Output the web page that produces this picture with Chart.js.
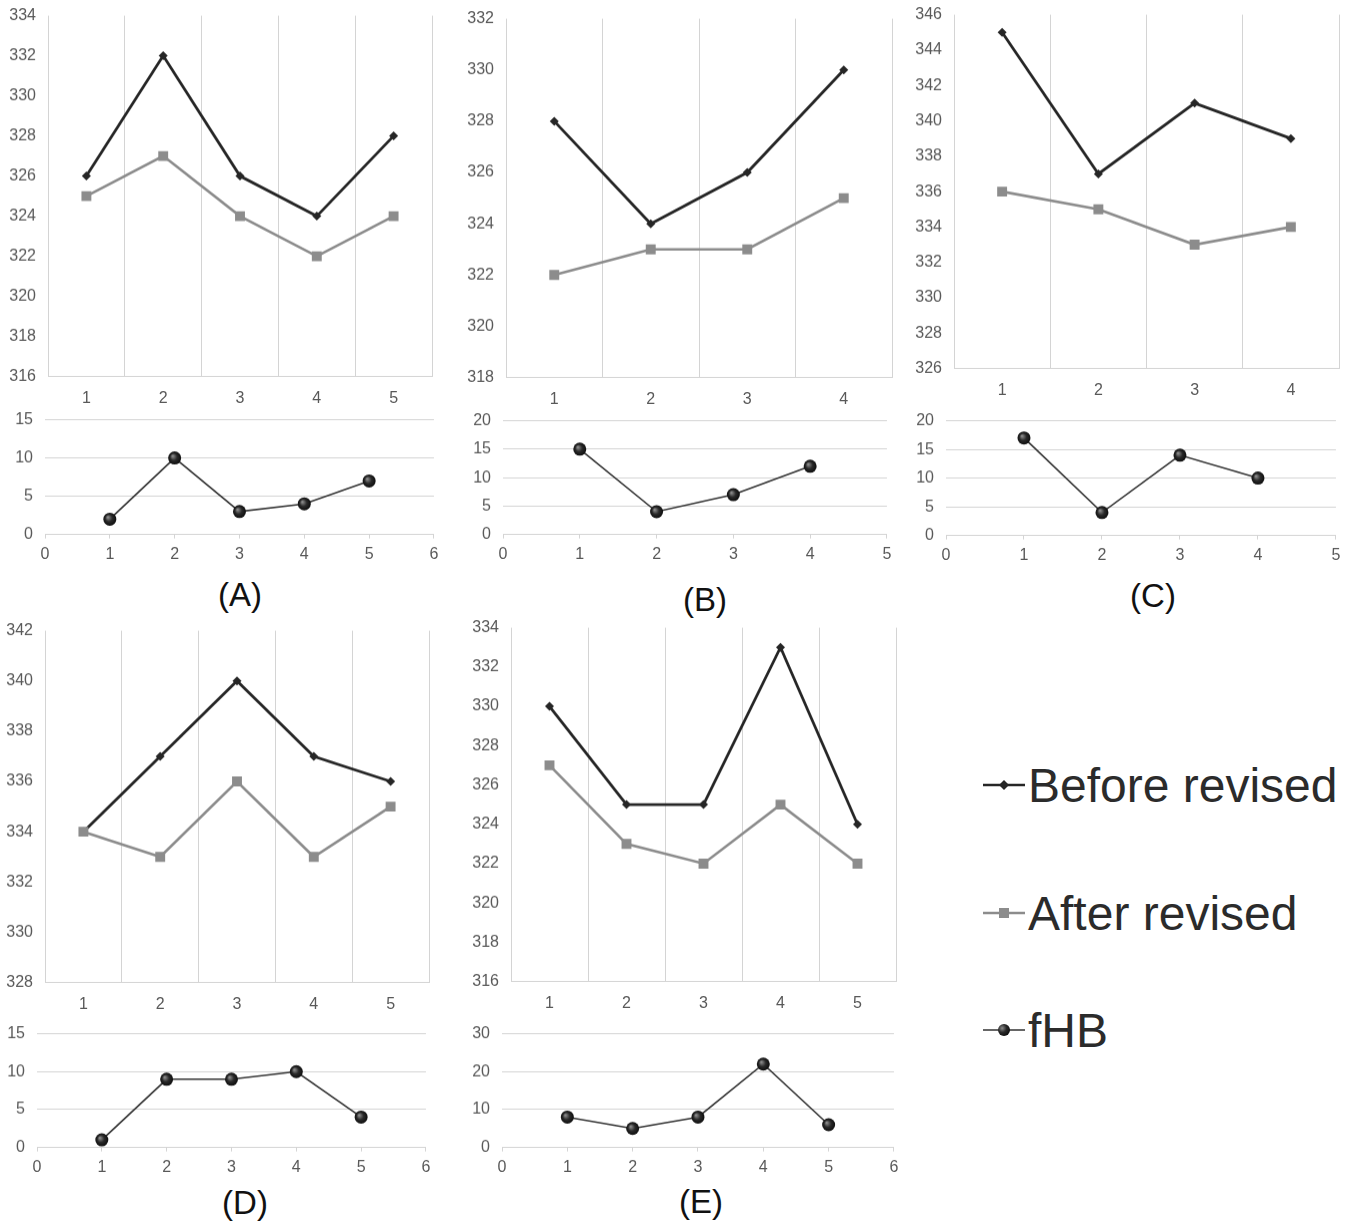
<!DOCTYPE html>
<html>
<head>
<meta charset="utf-8">
<script src="https://cdn.jsdelivr.net/npm/chart.js@4.4.1/dist/chart.umd.min.js"></script>
<style>
  body { margin: 0; background: #fff; width: 1354px; height: 1222px; overflow: hidden; position: relative;
         font-family: "Liberation Sans", Arial, sans-serif; }
  .box { position: absolute; }
  .tag { position: absolute; font-size: 33px; color: #111; transform: translate(-50%, -50%); white-space: nowrap; }
  .leg { position: absolute; left: 983px; height: 60px; display: flex; align-items: center;
         font-size: 48px; color: #2b2b2b; white-space: nowrap; }
  .leg svg { margin-right: 3px; }
</style>
</head>
<body>
<script>
// sessions (x categories) per panel
const sessionsA = [1, 2, 3, 4, 5];
const sessionsB = [1, 2, 3, 4];
const sessionsC = [1, 2, 3, 4];
const sessionsD = [1, 2, 3, 4, 5];
const sessionsE = [1, 2, 3, 4, 5];

const beforeA = [326, 332, 326, 324, 328];
const afterA  = [325, 327, 324, 322, 324];
const fhbA    = [2, 10, 3, 4, 7];

const beforeB = [328, 324, 326, 330];
const afterB  = [322, 323, 323, 325];
const fhbB    = [15, 4, 7, 12];

const beforeC = [345, 337, 341, 339];
const afterC  = [336, 335, 333, 334];
const fhbC    = [17, 4, 14, 10];

const beforeD = [334, 337, 340, 337, 336];
const afterD  = [334, 333, 336, 333, 335];
const fhbD    = [1, 9, 9, 10, 4];

const beforeE = [330, 325, 325, 333, 324];
const afterE  = [327, 323, 322, 325, 322];
const fhbE    = [8, 5, 8, 22, 6];

// tick ranges
const topMin = [316, 318, 326, 328, 316];
const topMax = [334, 332, 346, 342, 334];
const bottomMax = [15, 20, 20, 15, 30];
const bottomStep = [5, 5, 5, 5, 10];
const bottomXMax = [6, 5, 5, 6, 6];

const panelNames = ['(A)', '(B)', '(C)', '(D)', '(E)'];
const legendNames = ['Before revised', 'After revised', 'fHB'];

// plot area rectangles (pixels on the page) and label spots
const layout = [
  { top: { l: 48,  r: 432,  t: 16,  b: 376 }, bot: { l: 45,  r: 434,  t: 420,  b: 534 },  tag: [240, 595] },
  { top: { l: 506, r: 892,  t: 19,  b: 377 }, bot: { l: 503, r: 887,  t: 421,  b: 534 },  tag: [705, 600] },
  { top: { l: 954, r: 1339, t: 15,  b: 368 }, bot: { l: 946, r: 1336, t: 421,  b: 535 },  tag: [1153, 596] },
  { top: { l: 45,  r: 429,  t: 631, b: 982 }, bot: { l: 37,  r: 426,  t: 1034, b: 1147 }, tag: [245, 1203] },
  { top: { l: 511, r: 896,  t: 628, b: 981 }, bot: { l: 502, r: 894,  t: 1034, b: 1147 }, tag: [701, 1202] }
];

const panels = [
  { sessions: sessionsA, before: beforeA, after: afterA, fhb: fhbA },
  { sessions: sessionsB, before: beforeB, after: afterB, fhb: fhbB },
  { sessions: sessionsC, before: beforeC, after: afterC, fhb: fhbC },
  { sessions: sessionsD, before: beforeD, after: afterD, fhb: fhbD },
  { sessions: sessionsE, before: beforeE, after: afterE, fhb: fhbE }
];

const YW = 40, PAD_TOP = 10, PAD_RIGHT = 10, TOP_XH = 34, BOT_XH = 30;
const tickFont = { family: '"Liberation Sans", Arial, sans-serif', size: 16 };
const tickColor = '#595959';
const gridColor = '#d4d4d4';
const darkLine = '#262626';
const grayLine = '#8c8c8c';

function place(rect, xh) {
  const div = document.createElement('div');
  div.className = 'box';
  div.style.left = (rect.l - YW) + 'px';
  div.style.top = (rect.t - PAD_TOP) + 'px';
  div.style.width = (rect.r - rect.l + YW + PAD_RIGHT) + 'px';
  div.style.height = (rect.b - rect.t + PAD_TOP + xh) + 'px';
  const cv = document.createElement('canvas');
  div.appendChild(cv);
  document.body.appendChild(div);
  return cv;
}

// shift and resize the box so the plot area lands on the wanted rectangle
function fitToRect(chart, rect) {
  const div = chart.canvas.parentNode;
  const ca = chart.chartArea;
  const left = parseFloat(div.style.left), top = parseFloat(div.style.top);
  const w = parseFloat(div.style.width), h = parseFloat(div.style.height);
  div.style.left = (left + rect.l - (left + ca.left)) + 'px';
  div.style.top = (top + rect.t - (top + ca.top)) + 'px';
  div.style.width = (w + (rect.r - rect.l) - (ca.right - ca.left)) + 'px';
  div.style.height = (h + (rect.b - rect.t) - (ca.bottom - ca.top)) + 'px';
  chart.resize();
}

function ballColor(ctx) {
  const chart = ctx.chart;
  if (ctx.type !== 'data' || !ctx.parsed || !chart.scales.x || !chart.scales.y) {
    return '#1a1a1a';
  }
  const x = chart.scales.x.getPixelForValue(ctx.parsed.x);
  const y = chart.scales.y.getPixelForValue(ctx.parsed.y);
  if (!Number.isFinite(x) || !Number.isFinite(y)) {
    return '#1a1a1a';
  }
  const g = chart.ctx.createRadialGradient(x - 2, y - 2, 0.5, x, y, 6.5);
  g.addColorStop(0, '#8a8a8a');
  g.addColorStop(0.5, '#2a2a2a');
  g.addColorStop(1, '#0d0d0d');
  return g;
}

function drawTop(i) {
  const p = panels[i];
  const rect = layout[i].top;
  const chart = new Chart(place(rect, TOP_XH), {
    type: 'line',
    data: {
      labels: p.sessions.map(String),
      datasets: [{
        label: legendNames[0],
        data: p.before,
        borderColor: darkLine,
        backgroundColor: darkLine,
        borderWidth: 2.8,
        pointStyle: 'rectRot',
        pointRadius: 4.5,
        pointBorderWidth: 0,
        order: 1
      }, {
        label: legendNames[1],
        data: p.after,
        borderColor: grayLine,
        backgroundColor: grayLine,
        borderWidth: 2.6,
        pointStyle: 'rect',
        pointRadius: 7,
        pointBorderWidth: 0,
        order: 0
      }]
    },
    options: {
      responsive: true,
      maintainAspectRatio: false,
      animation: false,
      layout: { padding: { top: PAD_TOP, right: PAD_RIGHT, left: 0, bottom: 0 } },
      plugins: { legend: { display: false }, tooltip: { enabled: false } },
      scales: {
        x: {
          type: 'category',
          offset: true,
          grid: { offset: true, color: gridColor, drawTicks: false },
          border: { color: gridColor },
          ticks: { padding: 12, color: tickColor, font: tickFont },
          afterFit: s => { s.height = TOP_XH; }
        },
        y: {
          min: topMin[i],
          max: topMax[i],
          ticks: { stepSize: 2, padding: 12, color: tickColor, font: tickFont },
          grid: { display: false, drawTicks: false },
          border: { display: false },
          afterFit: s => { s.width = YW; }
        }
      }
    }
  });
  fitToRect(chart, rect);
}

function drawBottom(i) {
  const p = panels[i];
  const rect = layout[i].bot;
  const chart = new Chart(place(rect, BOT_XH), {
    type: 'line',
    data: {
      datasets: [{
        label: legendNames[2],
        data: p.fhb.map((v, k) => ({ x: p.sessions[k], y: v })),
        borderColor: '#333333',
        borderWidth: 1.6,
        pointStyle: 'circle',
        pointRadius: 6.5,
        pointBorderWidth: 0,
        pointBackgroundColor: ballColor
      }]
    },
    options: {
      responsive: true,
      maintainAspectRatio: false,
      animation: false,
      layout: { padding: { top: PAD_TOP, right: PAD_RIGHT, left: 0, bottom: 0 } },
      plugins: { legend: { display: false }, tooltip: { enabled: false } },
      scales: {
        x: {
          type: 'linear',
          min: 0,
          max: bottomXMax[i],
          ticks: { stepSize: 1, padding: 6, color: tickColor, font: tickFont },
          grid: { drawOnChartArea: false, drawTicks: true, tickLength: 4, color: gridColor },
          border: { color: gridColor },
          afterFit: s => { s.height = BOT_XH; }
        },
        y: {
          min: 0,
          max: bottomMax[i],
          ticks: { stepSize: bottomStep[i], padding: 12, color: tickColor, font: tickFont },
          grid: { color: gridColor, drawTicks: false },
          border: { display: false },
          afterFit: s => { s.width = YW; }
        }
      }
    }
  });
  fitToRect(chart, rect);
}

for (let i = 0; i < panels.length; i++) {
  drawTop(i);
  drawBottom(i);
  const tag = document.createElement('div');
  tag.className = 'tag';
  tag.style.left = layout[i].tag[0] + 'px';
  tag.style.top = layout[i].tag[1] + 'px';
  tag.textContent = panelNames[i];
  document.body.appendChild(tag);
}

// legend
const legendMarks = [
  '<line x1="0" y1="10" x2="42" y2="10" stroke="#262626" stroke-width="2.5"/>' +
    '<polygon points="21,5 26,10 21,15 16,10" fill="#262626"/>',
  '<line x1="0" y1="10" x2="42" y2="10" stroke="#8c8c8c" stroke-width="2.5"/>' +
    '<rect x="16" y="5" width="10" height="10" fill="#8c8c8c"/>',
  '<defs><radialGradient id="ball" cx="0.35" cy="0.35" r="0.7">' +
    '<stop offset="0" stop-color="#8a8a8a"/><stop offset="0.5" stop-color="#2a2a2a"/>' +
    '<stop offset="1" stop-color="#0d0d0d"/></radialGradient></defs>' +
    '<line x1="0" y1="10" x2="42" y2="10" stroke="#333" stroke-width="1.5"/>' +
    '<circle cx="21" cy="10" r="6" fill="url(#ball)"/>'
];
const legendY = [785, 913, 1030];
legendNames.forEach((name, k) => {
  const row = document.createElement('div');
  row.className = 'leg';
  row.style.top = (legendY[k] - 30) + 'px';
  row.innerHTML = '<svg width="42" height="20" viewBox="0 0 42 20">' + legendMarks[k] + '</svg>';
  const span = document.createElement('span');
  span.textContent = name;
  row.appendChild(span);
  document.body.appendChild(row);
});
</script>
</body>
</html>
